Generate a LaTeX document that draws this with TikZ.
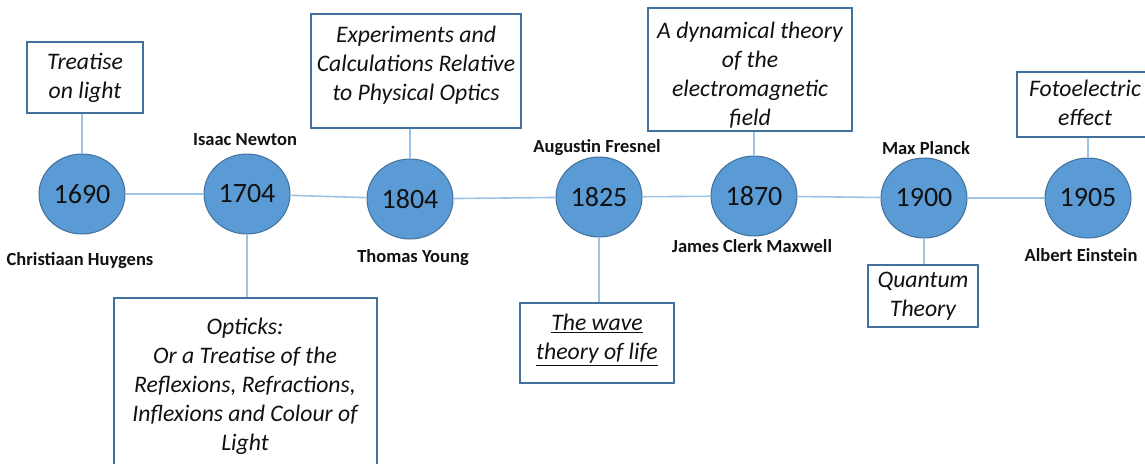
\documentclass[tikz,border=0pt]{standalone}
\usepackage{fontspec}
\setmainfont{Carlito}
\usetikzlibrary{shapes.geometric}
\definecolor{circfill}{HTML}{5B9BD5}
\definecolor{circline}{HTML}{41719C}
\definecolor{conn}{HTML}{9DC3E6}
\definecolor{boxline}{HTML}{41719C}
\definecolor{ink}{HTML}{111111}
\tikzset{
  year/.style={ellipse, minimum width=86pt, minimum height=80pt, inner sep=0pt,
    fill=circfill, draw=circline, line width=1pt, font=\fontsize{28}{30}\selectfont, text=ink},
  who/.style={font=\fontsize{18.5}{20}\selectfont\bfseries, text=ink},
  bookbox/.style={draw=boxline, line width=2.4pt, fill=white, inner sep=0pt},
  booktext/.style={font=\fontsize{23.7}{29}\selectfont\itshape, align=center, text=ink, inner sep=0pt},
  link/.style={draw=conn, line width=1.6pt}
}
\begin{document}
\begin{tikzpicture}[x=1pt,y=-1pt]
\useasboundingbox (0,0) rectangle (1145,463);
\clip (0,0) rectangle (1145,463);

% circles
\node[year] (c1) at (82,194) {1690};
\node[year] (c2) at (247,194) {1704};
\node[year] (c3) at (410,199) {1804};
\node[year] (c4) at (599,197) {1825};
\node[year] (c5) at (754,196) {1870};
\node[year] (c6) at (924,198) {1900};
\node[year] (c7) at (1088,198) {1905};

% boxes
\node[bookbox, minimum width=116pt, minimum height=71pt] (b1) at (85,77.5) {};
\node[booktext] (t1) at (85,78) {Treatise\\on light};

\node[bookbox, minimum width=210pt, minimum height=114pt] (b3) at (416,71) {};
\node[booktext] (t3) at (416,65) {Experiments and\\Calculations Relative\\to Physical Optics};

\node[bookbox, minimum width=204pt, minimum height=123pt] (b5) at (750,69.5) {};
\node[booktext] (t5) at (750,75) {A dynamical theory\\of the\\electromagnetic\\field};

\node[bookbox, minimum width=140pt, minimum height=65pt] (b7) at (1087,104.5) {};
\node[booktext] (t7) at (1085,103) {Fotoelectric\\effect};

\node[bookbox, minimum width=263pt, minimum height=180pt] (b2) at (245.5,388) {};
\node[booktext] (t2) at (245,386) {Opticks:\\Or a Treatise of the\\Reflexions, Refractions,\\Inflexions and Colour of\\Light};

\node[bookbox, minimum width=154pt, minimum height=80pt] (b4) at (597,343) {};
\node[booktext] (t4) at (597,340) {\underline{The wave}\\\underline{theory of life}};

\node[bookbox, minimum width=110pt, minimum height=62pt] (b6) at (923,296) {};
\node[booktext] (t6) at (923,296) {Quantum\\Theory};

% names
\node[who] (n1) at (80,261) {Christiaan Huygens};
\node[who] (n2) at (245,140) {Isaac Newton};
\node[who] (n3) at (413,258) {Thomas Young};
\node[who] (n4) at (597,148) {Augustin Fresnel};
\node[who] (n5) at (752,246) {James Clerk Maxwell};
\node[who] (n6) at (926,148) {Max Planck};
\node[who] (n7) at (1081,255) {Albert Einstein};

% timeline connectors
\path[link] (c1) -- (c2);
\path[link] (c2) -- (c3);
\path[link] (c3) -- (c4);
\path[link] (c4) -- (c5);
\path[link] (c5) -- (c6);
\path[link] (c6) -- (c7);

% vertical connectors
\path[link] (c1) -- (c1 |- b1.south);
\path[link] (c2) -- (c2 |- b2.north);
\path[link] (c3) -- (c3 |- b3.south);
\path[link] (c4) -- (c4 |- b4.north);
\path[link] (c5) -- (c5 |- b5.south);
\path[link] (c6) -- (c6 |- b6.north);
\path[link] (c7) -- (c7 |- b7.south);
\end{tikzpicture}
\end{document}
